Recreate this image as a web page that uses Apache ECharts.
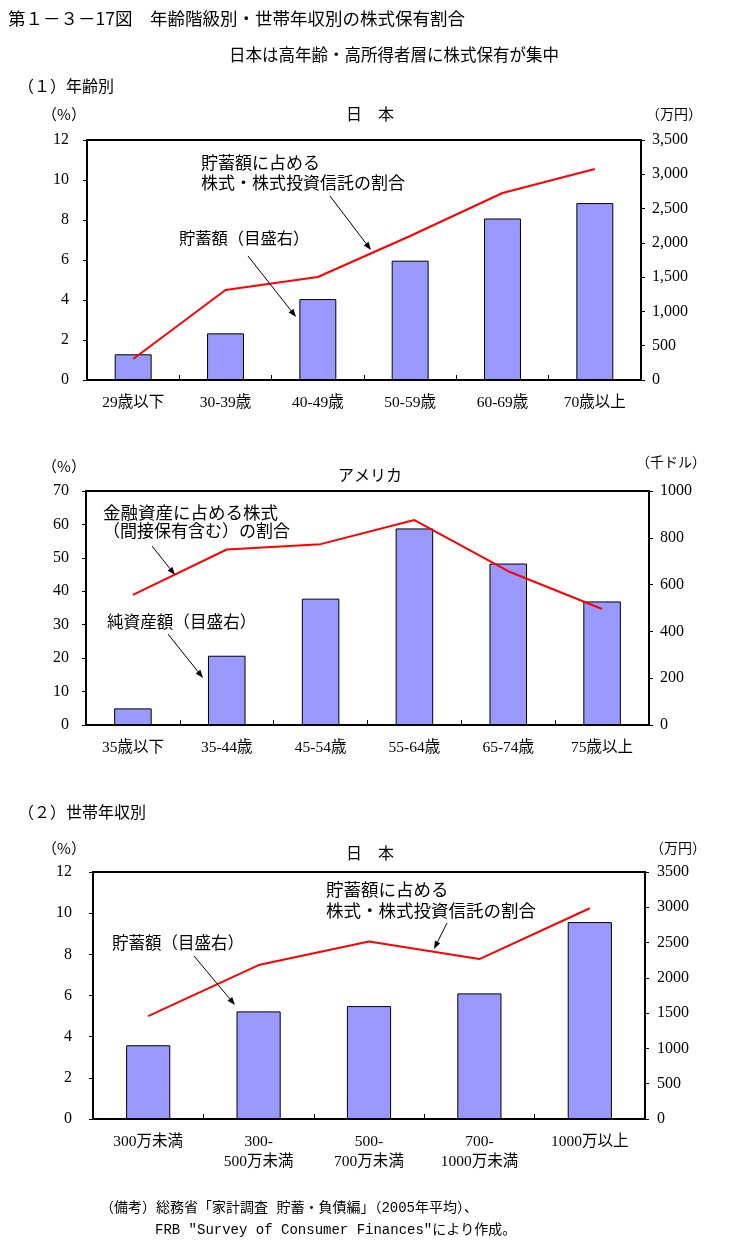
<!DOCTYPE html>
<html><head><meta charset="utf-8">
<script src="https://cdn.jsdelivr.net/npm/echarts@6/dist/echarts.min.js"></script>
<style>html,body{margin:0;padding:0;background:#fff}#c{width:734px;height:1246px}</style>
</head><body><div id="c"></div>
<script>
// ---- data ----
const jpAgeCats = ['29歳以下', '30-39歳', '40-49歳', '50-59歳', '60-69歳', '70歳以上'];
const jpAgeSavings = [375, 680, 1180, 1740, 2355, 2580];          // 万円 (right axis)
const jpAgeStockShare = [1.05, 4.5, 5.15, 7.2, 9.35, 10.55];     // % (left axis)

const usAgeCats = ['35歳以下', '35-44歳', '45-54歳', '55-64歳', '65-74歳', '75歳以上'];
const usNetWorth = [71, 296, 540, 840, 690, 528];                // 千ドル (right axis)
const usStockShare = [38.9, 52.5, 54.1, 61.3, 46.0, 34.7];       // % (left axis)

const jpIncCats = ['300万未満', '300-\n500万未満', '500-\n700万未満', '700-\n1000万未満', '1000万以上'];
const jpIncSavings = [1045, 1525, 1600, 1780, 2790];             // 万円 (right axis)
const jpIncStockShare = [5.0, 7.48, 8.62, 7.77, 10.24];          // % (left axis)

const jpAgeLeftTicks = {min: 0, max: 12, interval: 2};
const jpAgeRightTicks = {min: 0, max: 3500, interval: 500};
const usLeftTicks = {min: 0, max: 70, interval: 10};
const usRightTicks = {min: 0, max: 1000, interval: 200};
const jpIncLeftTicks = {min: 0, max: 12, interval: 2};
const jpIncRightTicks = {min: 0, max: 3500, interval: 500};

// ---- styling ----
const JP = '"Noto Sans CJK JP", sans-serif';
const NUM = '"Liberation Serif", "Noto Sans CJK JP", serif';
const BAR = '#9999FF';
const RED = '#FF0000';

const grids = [
  {left: 87, top: 140, width: 554, height: 240, show: true, borderColor: '#000', borderWidth: 2, backgroundColor: 'transparent'},
  {left: 86, top: 491, width: 563, height: 234, show: true, borderColor: '#000', borderWidth: 2, backgroundColor: 'transparent'},
  {left: 93, top: 872, width: 552, height: 247, show: true, borderColor: '#000', borderWidth: 2, backgroundColor: 'transparent'}
];

function xAx(i, cats) {
  return {
    type: 'category', gridIndex: i, data: cats,
    axisLine: {show: true, lineStyle: {color: '#000', width: 2}},
    axisTick: {show: true, inside: true, length: 5, lineStyle: {color: '#000', width: 1}},
    axisLabel: {color: '#000', fontSize: 15.5, fontFamily: NUM, margin: 13, interval: 0, lineHeight: 20},
    splitLine: {show: false}
  };
}
function yAx(i, pos, t, margin, fmt) {
  return {
    type: 'value', gridIndex: i, position: pos, min: t.min, max: t.max, interval: t.interval,
    axisLine: {show: true, lineStyle: {color: '#000', width: 2}},
    axisTick: {show: true, length: 4, lineStyle: {color: '#000', width: 1}},
    axisLabel: {color: '#000', fontSize: 16, fontFamily: NUM, margin: margin, formatter: fmt},
    splitLine: {show: false}
  };
}
const comma = v => v.toLocaleString('en-US');
const plain = v => String(v);

function txt(x, y, s, size, align, fam) {
  return {type: 'text', x: x, y: y, z: 100,
    style: {text: s, font: size + 'px ' + (fam || JP), fill: '#000',
      textAlign: align || 'left', textVerticalAlign: 'middle', verticalAlign: 'middle'}};
}
function arrow(x1, y1, x2, y2) {
  const a = Math.atan2(y2 - y1, x2 - x1), L = 8, W = 3;
  const c = Math.cos(a), s = Math.sin(a);
  const bx = x2 - L * c, by = y2 - L * s;
  return [
    {type: 'line', z: 100, shape: {x1: x1, y1: y1, x2: bx, y2: by}, style: {stroke: '#000', lineWidth: 1}},
    {type: 'polygon', z: 100, shape: {points: [[x2, y2], [bx + W * s, by - W * c], [bx - W * s, by + W * c]]}, style: {fill: '#000'}}
  ];
}

const graphics = [
  txt(8, 18, '第１－３－17図　年齢階級別・世帯年収別の株式保有割合', 17.5),
  txt(394, 55, '日本は高年齢・高所得者層に株式保有が集中', 16.5, 'center'),
  txt(18, 86, '（１）年齢別', 16),
  // chart 1
  txt(64, 114, '（%）', 15, 'center'),
  txt(370, 114, '日　本', 16, 'center'),
  txt(674, 114, '（万円）', 14, 'center'),
  txt(201, 163, '貯蓄額に占める', 17),
  txt(201, 183, '株式・株式投資信託の割合', 17),
  txt(179, 238, '貯蓄額（目盛右）', 16.3),
  ...arrow(330, 196, 371, 250),
  ...arrow(248, 256, 296, 317),
  // chart 2
  txt(64, 466, '（%）', 15, 'center'),
  txt(370, 475, 'アメリカ', 16, 'center'),
  txt(671, 462, '（千ドル）', 14, 'center'),
  txt(103, 512, '金融資産に占める株式', 17.5),
  txt(103, 531, '（間接保有含む）の割合', 17),
  txt(107, 622, '純資産額（目盛右）', 16.6),
  ...arrow(152, 546, 175, 575),
  ...arrow(168, 634, 203, 678),
  // chart 3
  txt(18, 812, '（２）世帯年収別', 16),
  txt(64, 848, '（%）', 15, 'center'),
  txt(370, 853, '日　本', 16, 'center'),
  txt(678, 848, '（万円）', 14, 'center'),
  txt(112, 943, '貯蓄額（目盛右）', 16.5),
  txt(326, 889, '貯蓄額に占める', 17.5),
  txt(326, 910, '株式・株式投資信託の割合', 17.5),
  ...arrow(194, 956, 235, 1005),
  ...arrow(447, 923, 434, 949),
  // notes
  txt(100, 1208, '（備考）総務省「家計調査 貯蓄・負債編」（2005年平均）、', 14, 'left', '"Liberation Mono", "Noto Sans CJK JP", monospace'),
  txt(155, 1230, 'FRB "Survey of Consumer Finances"により作成。', 14, 'left', '"Liberation Mono", "Noto Sans CJK JP", monospace')
];

function barS(xi, yi, data) {
  return {type: 'bar', xAxisIndex: xi, yAxisIndex: yi, data: data, barWidth: '40%',
    itemStyle: {color: BAR, borderColor: '#000', borderWidth: 1}, z: 2, silent: true};
}
function lineS(xi, yi, data) {
  return {type: 'line', xAxisIndex: xi, yAxisIndex: yi, data: data, symbol: 'none',
    lineStyle: {color: RED, width: 2}, z: 3, silent: true};
}

const option = {
  animation: false,
  backgroundColor: '#fff',
  grid: grids,
  xAxis: [xAx(0, jpAgeCats), xAx(1, usAgeCats), xAx(2, jpIncCats)],
  yAxis: [
    yAx(0, 'left', jpAgeLeftTicks, 18, plain), yAx(0, 'right', jpAgeRightTicks, 11, comma),
    yAx(1, 'left', usLeftTicks, 17, plain), yAx(1, 'right', usRightTicks, 11, plain),
    yAx(2, 'left', jpIncLeftTicks, 21, plain), yAx(2, 'right', jpIncRightTicks, 12, plain)
  ],
  series: [
    barS(0, 1, jpAgeSavings), lineS(0, 0, jpAgeStockShare),
    barS(1, 3, usNetWorth), lineS(1, 2, usStockShare),
    barS(2, 5, jpIncSavings), lineS(2, 4, jpIncStockShare)
  ],
  graphic: graphics
};
const chart = echarts.init(document.getElementById('c'), null, {renderer: 'canvas'});
chart.setOption(option);
</script></body></html>
